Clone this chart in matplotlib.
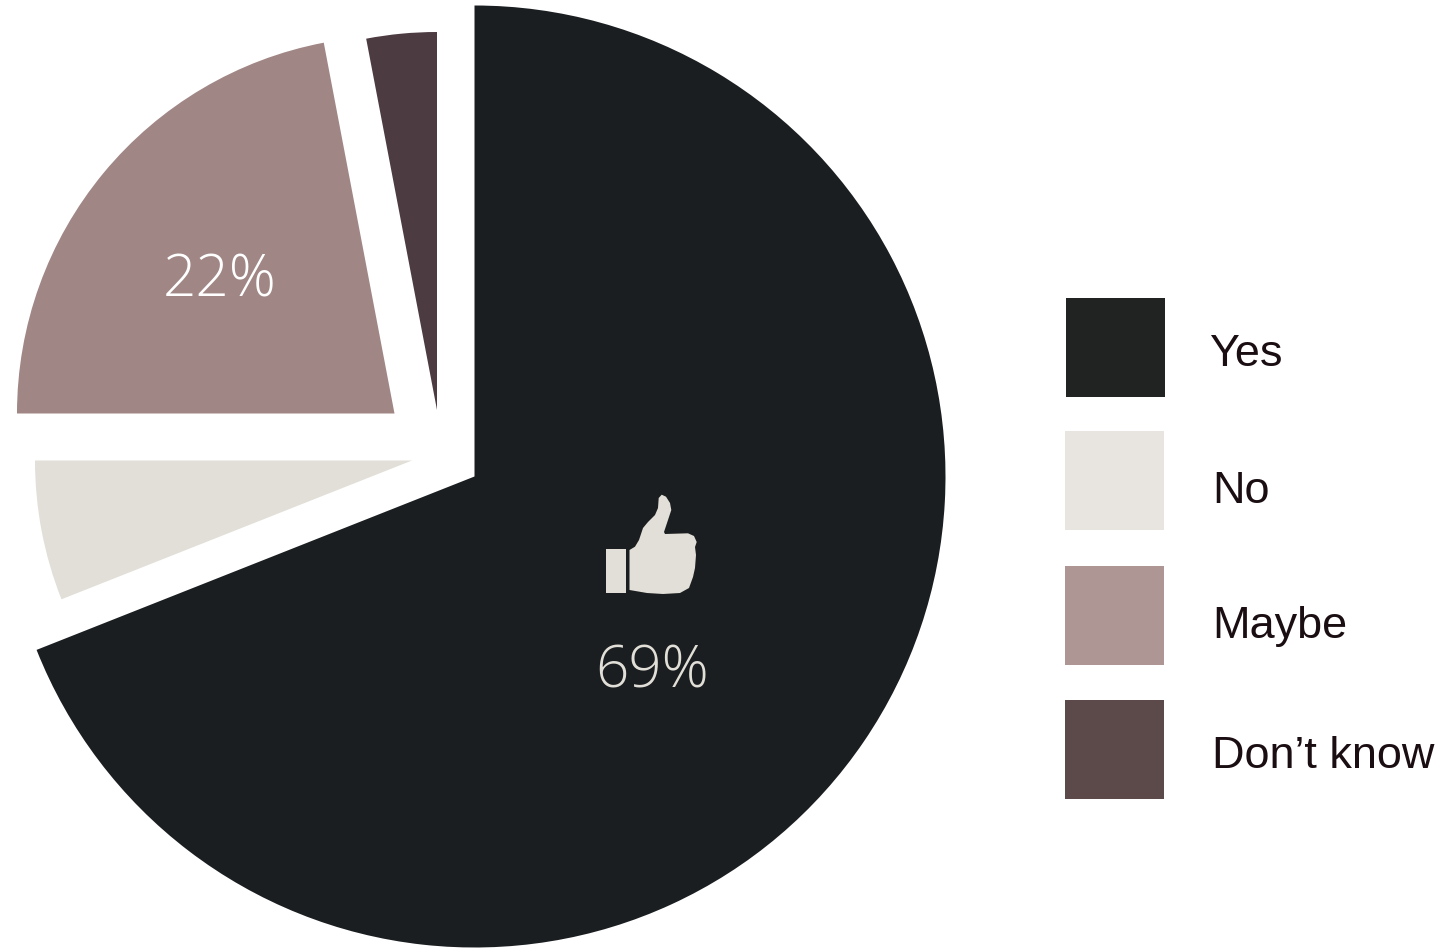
import matplotlib
matplotlib.use('Agg')
import matplotlib.pyplot as plt
from matplotlib.patches import Rectangle, Polygon

W = 1445
H = 948

# survey answers, in percent
labels = ['Yes', 'No', 'Maybe', "Don't know"]
shares = [69, 6, 22, 3]
share_text = ['69%', '22%']

# slices are pulled apart, each with its own tip and radius
slice_colors = ['#1a1e20', '#e1dfd7', '#a08685', '#4c3b40']
tips = [(474.5, 476.5), (412, 460.5), (394.5, 413.5), (437, 410)]
radii = [471, 377, 377.5, 378]

key_colors = ['#212322', '#e8e5e0', '#ad9694', '#5c4a4a']
key_boxes = [(1066, 298), (1065, 431), (1065, 566), (1065, 700)]
key_text = [(1209, 366), (1212, 503), (1212, 638), (1212, 768)]


def flip(p):
    # pixel position measured from the top of the figure
    return (p[0], H - p[1])


fig = plt.figure(figsize=(W / 100, H / 100), dpi=100)
ax = fig.add_axes([0, 0, 1, 1])

wedges, _ = ax.pie(shares, colors=slice_colors, startangle=90, counterclock=False)
for w, tip, r in zip(wedges, tips, radii):
    w.set_center(flip(tip))
    w.set_radius(r)

ax.set_xlim(0, W)
ax.set_ylim(0, H)
ax.set_aspect('equal')
ax.axis('off')

# percent labels
ax.text(652, H - 687, share_text[0], color='#e1dfd7', fontsize=42, family='Open Sans',
        weight='light', ha='center', va='baseline')
ax.text(220, H - 296, share_text[1], color='white', fontsize=42, family='Open Sans',
        weight='light', ha='center', va='baseline')

# thumbs up icon
ax.add_patch(Rectangle((606, H - 593), 20, 44, fc='#e1dfd7', ec='none'))
hand = [(629.5, 550), (635, 546.7), (639, 540), (643, 528), (648, 522), (655, 515),
        (658, 508), (658.7, 498), (661.7, 494.7), (666, 496.7), (670, 503), (671.3, 510),
        (668, 520), (664, 532), (665, 534), (688, 533.3), (694, 536), (696.7, 542),
        (695, 547), (696, 555), (695, 568), (693, 577), (689, 588), (680, 593),
        (663, 594), (647, 593), (629.5, 590)]
ax.add_patch(Polygon([flip(p) for p in hand], closed=True, fc='#e1dfd7', ec='none'))

# hand drawn key on the right
for name, c, box, pos in zip(labels, key_colors, key_boxes, key_text):
    ax.add_patch(Rectangle((box[0], H - box[1] - 99), 99, 99, fc=c, ec='none'))
    ax.text(pos[0], H - pos[1], name.replace("'", '\u2019'), color='#1a0e12', fontsize=32.4,
            family='Liberation Sans', ha='left', va='baseline')

fig.savefig('out.png', dpi=100, facecolor='white')
